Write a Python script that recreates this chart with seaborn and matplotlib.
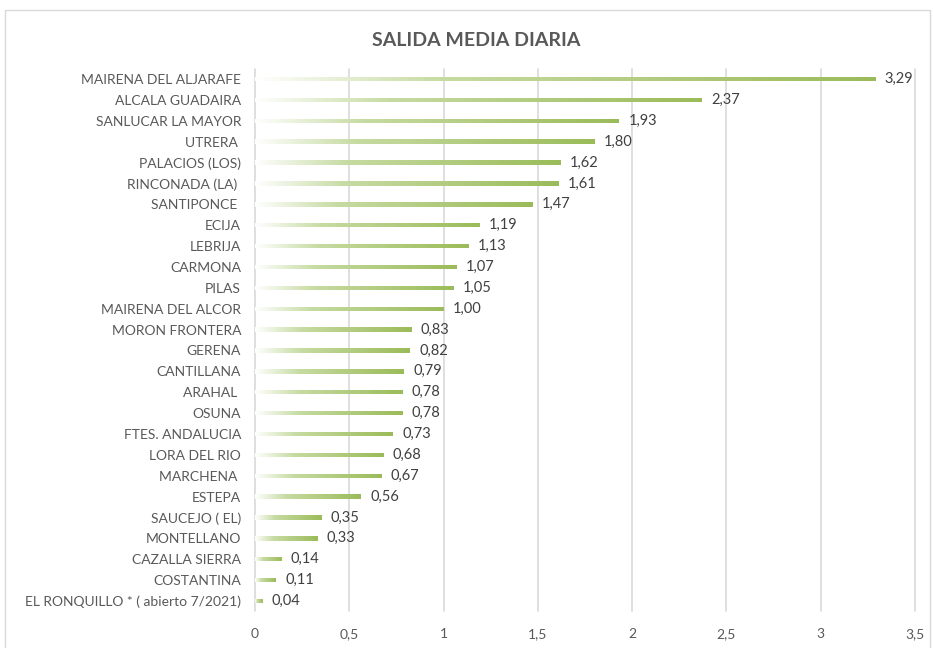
import numpy as np
import pandas as pd
import matplotlib
matplotlib.use("Agg")
import matplotlib.pyplot as plt
import seaborn as sns
from matplotlib.colors import LinearSegmentedColormap
from matplotlib.patches import Rectangle

# data
municipios = [
    "MAIRENA DEL ALJARAFE", "ALCALA GUADAIRA", "SANLUCAR LA MAYOR", "UTRERA ",
    "PALACIOS (LOS)", "RINCONADA (LA) ", "SANTIPONCE ", "ECIJA", "LEBRIJA",
    "CARMONA", "PILAS", "MAIRENA DEL ALCOR", "MORON FRONTERA", "GERENA",
    "CANTILLANA", "ARAHAL ", "OSUNA", "FTES. ANDALUCIA", "LORA DEL RIO",
    "MARCHENA ", "ESTEPA", "SAUCEJO ( EL)", "MONTELLANO", "CAZALLA SIERRA",
    "COSTANTINA", "EL RONQUILLO * ( abierto 7/2021)",
]
salida_media = [
    3.29, 2.37, 1.93, 1.80, 1.62, 1.61, 1.47, 1.19, 1.13, 1.07, 1.05, 1.00,
    0.83, 0.82, 0.79, 0.78, 0.78, 0.73, 0.68, 0.67, 0.56, 0.35, 0.33, 0.14,
    0.11, 0.04,
]
x_ticks = [0, 0.5, 1, 1.5, 2, 2.5, 3, 3.5]
x_labels = ["0", "0,5", "1", "1,5", "2", "2,5", "3", "3,5"]

df = pd.DataFrame({"municipio": municipios, "salida": salida_media})

sns.set_style("white")
plt.rcParams["font.family"] = ["Lato", "DejaVu Sans"]

fig = plt.figure(figsize=(9.33, 6.48), dpi=100)
ax = fig.add_axes([0.2733, 0.0565, 0.7074, 0.8376])

green = "#9BBB59"
sns.barplot(data=df, x="salida", y="municipio", orient="h", color=green,
            width=0.21, ax=ax, zorder=3)

# excel-like gradient fill: white on the left, green on the right
cmap = LinearSegmentedColormap.from_list(
    "grad", [(0, "#ffffff"), (0.3, "#c6dba2"), (1, green)])
grad = np.linspace(0, 1, 256).reshape(1, -1)
for p in list(ax.patches):
    x0, y0 = p.get_x(), p.get_y()
    w, h = p.get_width(), p.get_height()
    p.set_facecolor("none")
    p.set_edgecolor("none")
    im = ax.imshow(grad, cmap=cmap, extent=[x0, x0 + w, y0 + h, y0],
                   aspect="auto", zorder=3, interpolation="bilinear")
    im.set_clip_path(p)

for i, v in enumerate(salida_media):
    ax.text(v + 0.05, i, f"{v:.2f}".replace(".", ","), va="center",
            ha="left", fontsize=10.5, color="#404040")

ax.set_xlim(0, 3.5)
ax.set_ylim(len(municipios) - 0.5, -0.5)
ax.set_xticks(x_ticks)
ax.set_xticklabels(x_labels)
ax.tick_params(axis="x", length=0, pad=12, labelsize=10, labelcolor="#595959")
ax.tick_params(axis="y", length=0, pad=10, labelsize=10, labelcolor="#595959")
ax.set_xlabel("")
ax.set_ylabel("")
ax.grid(axis="x", color="#d9d9d9", linewidth=1.2, zorder=0)
ax.grid(axis="y", visible=False)
for gl in ax.get_xgridlines():
    gl.set_clip_on(False)
sns.despine(ax=ax, left=True, bottom=True)

fig.text(0.51, 0.937, "SALIDA MEDIA DIARIA", ha="center", va="center",
         fontsize=14, fontweight="bold", color="#595959")

# chart border
fig.patches.append(Rectangle((0.005, -0.1), 0.992, 1.085, transform=fig.transFigure,
                             fill=False, edgecolor="#d9d9d9", linewidth=1))

fig.savefig("out.png", dpi=100)
